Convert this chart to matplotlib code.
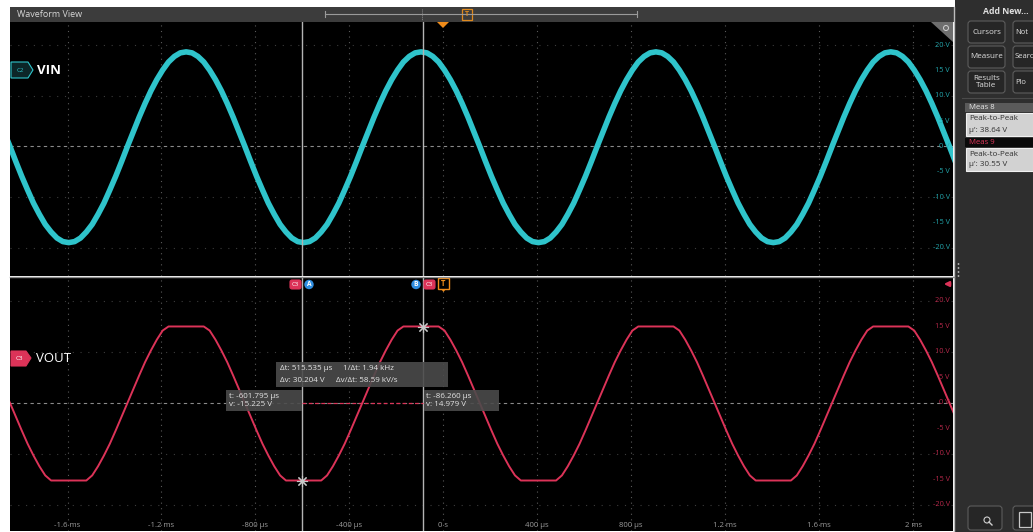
import numpy as np
import matplotlib.pyplot as plt
from matplotlib.patches import Rectangle, FancyBboxPatch, Polygon, Circle
from matplotlib.transforms import blended_transform_factory

plt.rcParams['font.family'] = ['Open Sans', 'DejaVu Sans']

# scope record, one sample every 25 us (time in us)
t_us = np.arange(-1870, 2181, 25)

vin = [2.9, 0.0, -3.0, -5.9, -8.6, -11.2, -13.4, -15.4, -16.9, -18.1, -18.8, -19.0, -18.8, -18.1, -16.9, -15.4,
       -13.4, -11.2, -8.6, -5.9, -3.0, 0.0, 2.9, 5.8, 8.5, 11.0, 13.2, 15.1, 16.7, 17.8, 18.5,
       18.7, 18.5, 17.8, 16.7, 15.1, 13.2, 11.0, 8.5, 5.8, 2.9, 0.0, -3.0, -5.9, -8.6, -11.2, -13.4, -15.4, -16.9, -18.1, -18.8,
       -19.0, -18.8, -18.1, -16.9, -15.4, -13.4, -11.2, -8.6, -5.9, -3.0, 0.0, 2.9, 5.8, 8.5, 11.0, 13.2, 15.1, 16.7, 17.8, 18.5,
       18.7, 18.5, 17.8, 16.7, 15.1, 13.2, 11.0, 8.5, 5.8, 2.9, 0.0, -3.0, -5.9, -8.6, -11.2, -13.4, -15.4, -16.9, -18.1, -18.8,
       -19.0, -18.8, -18.1, -16.9, -15.4, -13.4, -11.2, -8.6, -5.9, -3.0, 0.0, 2.9, 5.8, 8.5, 11.0, 13.2, 15.1, 16.7, 17.8, 18.5,
       18.7, 18.5, 17.8, 16.7, 15.1, 13.2, 11.0, 8.5, 5.8, 2.9, 0.0, -3.0, -5.9, -8.6, -11.2, -13.4, -15.4, -16.9, -18.1, -18.8,
       -19.0, -18.8, -18.1, -16.9, -15.4, -13.4, -11.2, -8.6, -5.9, -3.0, 0.0, 2.9, 5.8, 8.5, 11.0, 13.2, 15.1, 16.7, 17.8, 18.5,
       18.7, 18.5, 17.8, 16.7, 15.1, 13.2, 11.0, 8.5, 5.8, 2.9, 0.0, -3.0]

vout = [2.7, 0.0, -2.7, -5.4, -8.0, -10.3, -12.4, -14.2, -15.2, -15.2, -15.2, -15.2, -15.2, -15.2, -15.2,
        -14.2, -12.4, -10.3, -8.0, -5.4, -2.7, 0.0, 2.7, 5.4, 8.0, 10.3, 12.4, 14.2, 15.0, 15.0, 15.0,
        15.0, 15.0, 15.0, 15.0, 14.2, 12.4, 10.3, 8.0, 5.4, 2.7, 0.0, -2.7, -5.4, -8.0, -10.3, -12.4, -14.2, -15.2, -15.2, -15.2,
        -15.2, -15.2, -15.2, -15.2, -14.2, -12.4, -10.3, -8.0, -5.4, -2.7, 0.0, 2.7, 5.4, 8.0, 10.3, 12.4, 14.2, 15.0, 15.0, 15.0,
        15.0, 15.0, 15.0, 15.0, 14.2, 12.4, 10.3, 8.0, 5.4, 2.7, 0.0, -2.7, -5.4, -8.0, -10.3, -12.4, -14.2, -15.2, -15.2, -15.2,
        -15.2, -15.2, -15.2, -15.2, -14.2, -12.4, -10.3, -8.0, -5.4, -2.7, 0.0, 2.7, 5.4, 8.0, 10.3, 12.4, 14.2, 15.0, 15.0, 15.0,
        15.0, 15.0, 15.0, 15.0, 14.2, 12.4, 10.3, 8.0, 5.4, 2.7, 0.0, -2.7, -5.4, -8.0, -10.3, -12.4, -14.2, -15.2, -15.2, -15.2,
        -15.2, -15.2, -15.2, -15.2, -14.2, -12.4, -10.3, -8.0, -5.4, -2.7, 0.0, 2.7, 5.4, 8.0, 10.3, 12.4, 14.2, 15.0, 15.0, 15.0,
        15.0, 15.0, 15.0, 15.0, 14.2, 12.4, 10.3, 8.0, 5.4, 2.7, 0.0, -2.7]

time_ticks = [-1600, -1200, -800, -400, 0, 400, 800, 1200, 1600, 2000]
time_labels = ['-1.6 ms', '-1.2 ms', '-800 µs', '-400 µs', '0 s', '400 µs', '800 µs', '1.2 ms', '1.6 ms', '2 ms']
volt_ticks = [20, 15, 10, 5, 0, -5, -10, -15, -20]

cursor_a = (-601.795, -15.225)
cursor_b = (-86.260, 14.979)
meas = [('Meas 8', "µ': 38.64 V"), ('Meas 9', "µ': 30.55 V")]

CYAN = '#2fc4cb'
RED = '#dc3358'
W, H = 1033, 532

fig = plt.figure(figsize=(W / 100, H / 100), dpi=100)
fig.patch.set_facecolor('white')


def slice_axes(top, bottom, ylim):
    ax = fig.add_axes([10 / W, 1 - bottom / H, 943 / W, (bottom - top) / H])
    ax.set_facecolor('black')
    ax.set_xlim(-1845, 2170)
    ax.set_ylim(*ylim)
    ax.set_xticks([])
    ax.set_yticks([])
    for s in ax.spines.values():
        s.set_visible(False)
    for t in time_ticks:
        ax.axvline(t, color='#5a5a5a', lw=0.8, ls=(0, (1, 4)), zorder=1)
    for v in [-20, -10, 10, 20]:
        ax.axhline(v, color='#3c3c3c', lw=0.8, ls=(0, (1, 6)), zorder=1)
    ax.axhline(0, color='#8a8a8a', lw=0.8, ls=(0, (3, 3)), zorder=1)
    return ax


ax1 = slice_axes(22, 276, (-25.6, 24.6))
ax2 = slice_axes(277, 531, (-25.1, 24.7))

ax1.plot(t_us, vin, color=CYAN, lw=4.0, solid_capstyle='round', solid_joinstyle='round', zorder=3)
ax2.plot(t_us, vout, color=RED, lw=1.4, solid_joinstyle='round', zorder=3)

# volt labels at right edge of each slice
for ax, col in [(ax1, '#23a6ac'), (ax2, '#b8284a')]:
    tr = blended_transform_factory(ax.transAxes, ax.transData)
    for v in volt_ticks:
        ax.text(0.9965, v, '%d V' % v, transform=tr, ha='right', va='center',
                fontsize=5.3, color=col, zorder=4)

for t, lab in zip(time_ticks, time_labels):
    ax2.text(t, -24.0, lab, ha='center', va='center', fontsize=5.6, color='#9a9a9a', zorder=4)

# cursors
for ax in (ax1, ax2):
    ax.axvline(cursor_a[0], color='#b4b4b4', lw=1.0, zorder=4)
    ax.axvline(cursor_b[0], color='#b4b4b4', lw=1.0, zorder=4)
ax2.plot([cursor_a[0], cursor_b[0]], [0, 0], color=RED, lw=0.9, ls=(0, (3, 2)), zorder=4)
ax2.plot([cursor_a[0], cursor_b[0]], [cursor_a[1], cursor_b[1]], ls='none', marker=(8, 2, 0),
         ms=8, mew=0.8, color='#c8c8c8', zorder=5)

# overlay in pixel coordinates for the scope UI
ui = fig.add_axes([0, 0, 1, 1], zorder=10)
ui.set_xlim(0, W)
ui.set_ylim(H, 0)
ui.axis('off')
ui.patch.set_alpha(0)

# title bar
ui.add_patch(Rectangle((10, 7), 945, 15, fc='#3c3c3c', ec='none'))
ui.text(17, 14.5, 'Waveform View', fontsize=6.5, color='#d6d6d6', va='center')
ui.plot([325, 637], [14, 14], color='#9a9a9a', lw=0.8)
ui.plot([325, 325], [11, 17], color='#9a9a9a', lw=0.8)
ui.plot([637, 637], [11, 17], color='#9a9a9a', lw=0.8)
ui.plot([422, 422], [9, 20], color='#8a8a8a', lw=0.7, ls=(0, (1, 1)))
ui.add_patch(Rectangle((462, 9), 10, 11, fc='#3c3c3c', ec='#e08a1e', lw=0.9))
ui.text(467, 14.5, 'T', fontsize=5, color='#e08a1e', ha='center', va='center', weight='bold')
ui.add_patch(Polygon([(437, 22), (449, 22), (443, 28)], fc='#f08c1a', ec='none'))

# border between plots and side panel
ui.plot([954, 954], [7, 532], color='#bdbdbd', lw=1.0)
ui.plot([10, 954], [276.5, 276.5], color='#8a8a8a', lw=1.0)

# zoom corner of top slice
ui.add_patch(Polygon([(931, 22), (953, 22), (953, 42)], fc='#6e6e6e', ec='none'))
ui.add_patch(Circle((946, 28), 2.5, fc='none', ec='#d0d0d0', lw=0.7))

# channel badges
ui.add_patch(Polygon([(11, 62), (28, 62), (33, 70), (28, 78), (11, 78)], fc='#0c2628', ec=CYAN, lw=0.8))
ui.text(20, 70, 'C2', fontsize=4.5, color=CYAN, ha='center', va='center')
ui.text(37, 70, 'VIN', fontsize=9.5, color='white', weight='bold', va='center')
ui.add_patch(Polygon([(11, 351), (26, 351), (31, 358), (26, 366), (11, 366)], fc=RED, ec=RED, lw=0.8))
ui.text(19.5, 358.5, 'C3', fontsize=4.5, color='white', ha='center', va='center')
ui.text(36, 358.5, 'VOUT', fontsize=9.5, color='white', va='center')


# cursor handles on the bottom slice
def tag(x, y, label, fc, ec=None, tc='white'):
    ui.add_patch(FancyBboxPatch((x, y), 11, 9, boxstyle='round,pad=0,rounding_size=2',
                                fc=fc, ec=ec or fc, lw=0.8))
    ui.text(x + 5.5, y + 4.7, label, fontsize=4.3, color=tc, ha='center', va='center')


tag(290, 280, 'C3', RED)
ui.add_patch(Circle((309, 284.5), 4.7, fc='#2f8de0', ec='none'))
ui.text(309, 284.8, 'A', fontsize=4.8, color='white', ha='center', va='center', weight='bold')
ui.add_patch(Circle((416, 284.5), 4.7, fc='#2f8de0', ec='none'))
ui.text(416, 284.8, 'B', fontsize=4.8, color='white', ha='center', va='center', weight='bold')
tag(424, 280, 'C3', RED)
ui.add_patch(Rectangle((438, 278), 11, 11, fc='black', ec='#f08c1a', lw=1.0))
ui.text(443.5, 283.5, 'T', fontsize=5.5, color='#f08c1a', ha='center', va='center', weight='bold')
ui.add_patch(Polygon([(441, 289), (446, 289), (443.5, 292)], fc='#f08c1a', ec='none'))

# C3 offset arrow
ui.annotate('', xy=(941, 284), xytext=(953, 284),
            arrowprops=dict(arrowstyle='-|>', color=RED, lw=1.6, mutation_scale=7))


# cursor readouts
def readout(x, y, w, h):
    ui.add_patch(Rectangle((x, y), w, h, fc='#4b4b4b', ec='none', alpha=0.9))


dt = cursor_b[0] - cursor_a[0]
dv = cursor_b[1] - cursor_a[1]
readout(276, 362, 172, 25)
ui.text(280, 369, 'Δt: %.3f µs' % dt, fontsize=5.8, color='#e4e4e4', va='center')
ui.text(343, 369, '1/Δt: %.2f kHz' % (1000 / dt), fontsize=5.8, color='#e4e4e4', va='center')
ui.text(280, 380, 'Δv: %.3f V' % dv, fontsize=5.8, color='#e4e4e4', va='center')
ui.text(336, 380, 'Δv/Δt: %.2f kV/s' % (dv / dt * 1000), fontsize=5.8, color='#e4e4e4', va='center')
readout(226, 390, 76, 21)
ui.text(229, 396, 't: %.3f µs' % cursor_a[0], fontsize=5.8, color='#e4e4e4', va='center')
ui.text(229, 405, 'v: %.3f V' % cursor_a[1], fontsize=5.8, color='#e4e4e4', va='center')
readout(424, 390, 75, 21)
ui.text(426, 396, 't: %.3f µs' % cursor_b[0], fontsize=5.8, color='#e4e4e4', va='center')
ui.text(426, 405, 'v: %.3f V' % cursor_b[1], fontsize=5.8, color='#e4e4e4', va='center')

# side panel (right column of buttons runs off the screen edge)
ui.add_patch(Rectangle((955, 0), 78, 532, fc='#2e2e2e', ec='none'))
ui.text(1006, 12, 'Add New...', fontsize=6.2, color='#e0e0e0', ha='center', va='center', weight='bold')
buttons = [('Cursors', 968, 21), ('Not', 1013, 21), ('Measure', 968, 46), ('Searc', 1013, 46),
           ('Results\nTable', 968, 71), ('Plo', 1013, 71)]
for name, bx, by in buttons:
    ui.add_patch(FancyBboxPatch((bx, by), 37, 22, boxstyle='round,pad=0,rounding_size=3',
                                fc='#262626', ec='#5c5c5c', lw=0.8))
    if bx < 1000:
        ui.text(bx + 18.5, by + 11, name, fontsize=5.8, color='#e0e0e0', ha='center', va='center',
                linespacing=0.9)
    else:
        ui.text(bx + 2, by + 11, name, fontsize=5.5, color='#e0e0e0', ha='left', va='center')
ui.plot([962, 1033], [98, 98], color='#4a4a4a', lw=0.8)

for i, (name, val) in enumerate(meas):
    y0 = 103 + i * 35
    if i == 0:
        ui.add_patch(Rectangle((965, y0), 68, 9, fc='#5a5a5a', ec='none'))
        ui.text(969, y0 + 4.7, name, fontsize=5.6, color='#e8e8e8', va='center')
    else:
        ui.add_patch(Rectangle((965, y0), 68, 9, fc='#0a0a0a', ec='none'))
        ui.text(969, y0 + 4.7, name, fontsize=5.6, color='#e0365a', va='center')
    ui.add_patch(Rectangle((966, y0 + 10), 67, 23, fc='#d2d2d2', ec='#f0f0f0', lw=0.8))
    ui.text(969, y0 + 16, 'Peak-to-Peak', fontsize=5.8, color='#303030', va='center')
    ui.text(969, y0 + 27, val, fontsize=5.8, color='#303030', va='center')

# splitter handle
for yy in [264, 268, 272, 276]:
    ui.add_patch(Circle((958.5, yy), 0.9, fc='#bbbbbb', ec='none'))

# bottom tool buttons
ui.add_patch(FancyBboxPatch((968, 506), 34, 24, boxstyle='round,pad=0,rounding_size=3',
                            fc='#262626', ec='#5c5c5c', lw=0.8))
ui.add_patch(Circle((987, 520), 3, fc='none', ec='#d0d0d0', lw=0.8))
ui.plot([989, 992], [522, 525], color='#d0d0d0', lw=1.0)
ui.add_patch(FancyBboxPatch((1013, 506), 30, 24, boxstyle='round,pad=0,rounding_size=3',
                            fc='#262626', ec='#5c5c5c', lw=0.8))
ui.add_patch(Rectangle((1019, 512), 12, 15, fc='none', ec='#c8c8c8', lw=0.9))

fig.savefig('out.png', dpi=100, facecolor=fig.get_facecolor())
